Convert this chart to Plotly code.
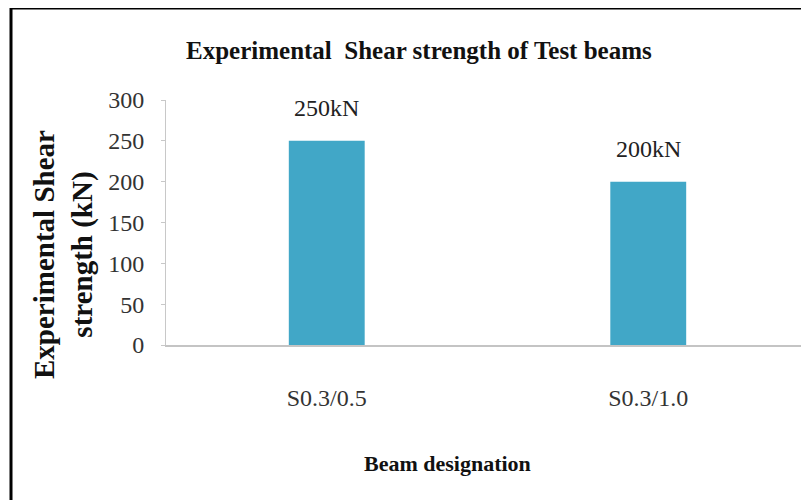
import plotly.graph_objects as go

categories = ["S0.3/0.5", "S0.3/1.0"]
strength_kn = [250, 200]
value_labels = ["250kN", "200kN"]
y_ticks = [0, 50, 100, 150, 200, 250, 300]

title_text = "Experimental&nbsp;&nbsp;Shear strength of Test beams"
y_title = "Experimental Shear<br>strength (kN)"
x_title = "Beam designation"

# the page body adds an 8px offset; work in screen pixels and compensate
OFF = 8
SW, SH = 809, 500
W, H = SW - OFF, SH - OFF
plot_left, plot_right, plot_top, plot_bottom = 166, 809, 100, 345
L = plot_left - OFF
R = 0
T = plot_top - OFF
B = H - (plot_bottom - OFF)
pw = W - L - R
ph = H - T - B

def px_to_paper_x(px):
    return (px - plot_left) / pw

def px_to_paper_y(py):
    return (plot_bottom - py) / ph

FONT = "Liberation Serif"
BAR = "#41A7C7"

fig = go.Figure()
fig.add_trace(go.Bar(
    x=categories, y=strength_kn,
    width=0.236,
    marker=dict(color=BAR, line=dict(width=0)),
    showlegend=False,
    hoverinfo="x+y",
))

annotations = []
for c, v, t in zip(categories, strength_kn, value_labels):
    annotations.append(dict(
        x=c, y=v, xref="x", yref="y", text=t, showarrow=False,
        yanchor="bottom", yshift=18,
        font=dict(family=FONT, size=24, color="#222222"),
    ))

annotations.append(dict(
    x=px_to_paper_x(419), y=px_to_paper_y(50), xref="paper", yref="paper",
    text="<b>" + title_text + "</b>", showarrow=False,
    xanchor="center", yanchor="middle",
    font=dict(family=FONT, size=25, color="#111111"),
))
annotations.append(dict(
    x=px_to_paper_x(447), y=px_to_paper_y(463), xref="paper", yref="paper",
    text="<b>" + x_title + "</b>", showarrow=False,
    xanchor="center", yanchor="middle",
    font=dict(family=FONT, size=22, color="#111111"),
))
annotations.append(dict(
    x=px_to_paper_x(63), y=px_to_paper_y(255), xref="paper", yref="paper",
    text="<b>" + y_title + "</b>", showarrow=False, textangle=-90,
    xanchor="center", yanchor="middle",
    font=dict(family=FONT, size=29, color="#111111"),
))

shapes = [
    dict(type="line", xref="paper", yref="paper",
         x0=px_to_paper_x(11), x1=px_to_paper_x(830),
         y0=px_to_paper_y(8), y1=px_to_paper_y(8),
         line=dict(color="#000000", width=3)),
    dict(type="line", xref="paper", yref="paper",
         x0=px_to_paper_x(11), x1=px_to_paper_x(11),
         y0=px_to_paper_y(8), y1=px_to_paper_y(520),
         line=dict(color="#000000", width=3)),
]

fig.update_layout(
    width=W, height=H,
    margin=dict(l=L, r=R, t=T, b=B, pad=0),
    paper_bgcolor="white", plot_bgcolor="white",
    bargap=0.5,
    annotations=annotations,
    shapes=shapes,
    xaxis=dict(
        type="category", range=[-0.5, 1.5],
        showline=True, linecolor="#C4C4C4", linewidth=2,
        showgrid=False, zeroline=False, ticks="",
        ticklabelstandoff=30,
        tickfont=dict(family=FONT, size=24, color="#333333"),
    ),
    yaxis=dict(
        range=[0, 300], tickvals=y_ticks,
        showline=True, linecolor="#C8C8C8", linewidth=1,
        ticks="outside", ticklen=4, tickcolor="#C8C8C8",
        showgrid=False, zeroline=False,
        ticklabelstandoff=12,
        tickfont=dict(family=FONT, size=24, color="#333333"),
    ),
)

fig.write_html(
    "out.html",
    post_script="document.documentElement.style.overflow='hidden';document.body.style.overflow='hidden';",
)
